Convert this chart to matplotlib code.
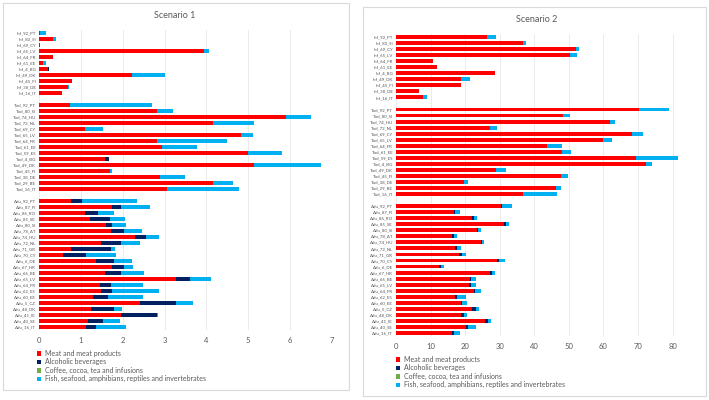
import matplotlib
matplotlib.use('Agg')
from matplotlib import pyplot as plt
from matplotlib.patches import Rectangle
import numpy as np

plt.rcParams['font.family'] = ['Lato', 'DejaVu Sans']

inf_labels = ['Inf_92_PT', 'Inf_80_SI', 'Inf_69_CY', 'Inf_65_LV', 'Inf_64_FR', 'Inf_61_EE',
              'Inf_4_BG', 'Inf_49_DK', 'Inf_45_FI', 'Inf_38_DE', 'Inf_16_IT']
tod_labels = ['Tod_92_PT', 'Tod_80_SI', 'Tod_74_HU', 'Tod_72_NL', 'Tod_69_CY', 'Tod_65_LV',
              'Tod_64_FR', 'Tod_61_EE', 'Tod_59_ES', 'Tod_4_BG', 'Tod_49_DK', 'Tod_45_FI',
              'Tod_38_DE', 'Tod_29_BE', 'Tod_16_IT']
adu_labels = ['Adu_92_PT', 'Adu_87_FI', 'Adu_86_RO', 'Adu_85_SE', 'Adu_80_SI', 'Adu_78_AT',
              'Adu_74_HU', 'Adu_72_NL', 'Adu_71_GR', 'Adu_70_CY', 'Adu_6_DE', 'Adu_67_HR',
              'Adu_66_BE', 'Adu_65_LV', 'Adu_64_FR', 'Adu_62_ES', 'Adu_60_EE', 'Adu_5_CZ',
              'Adu_48_DK', 'Adu_41_IE', 'Adu_40_SE', 'Adu_16_IT']

series_names = ['Meat and meat products', 'Alcoholic beverages',
                'Coffee, cocoa, tea and infusions',
                'Fish, seafood, amphibians, reptiles and invertebrates']
colors = ['#FF0000', '#002060', '#70AD47', '#00B0F0']

# Scenario 1 (Inf | Tod | Adu)
s1_meat = [0.03, 0.33, 0.02, 3.94, 0.33, 0.10, 0.22, 2.23, 0.80, 0.69, 0.55,
           0.73, 2.82, 5.90, 4.16, 1.09, 4.82, 2.82, 2.95, 5.00, 1.57, 5.14, 1.69, 2.89, 4.16, 3.06,
           0.77, 1.75, 1.11, 1.21, 1.61, 1.71, 2.29, 1.49, 0.76, 0.57, 1.37, 1.75, 1.57, 3.27,
           1.45, 1.47, 1.28, 2.41, 1.24, 1.97, 1.16, 1.13]
s1_alc = [0, 0, 0, 0, 0, 0, 0.03, 0, 0, 0, 0,
          0, 0, 0, 0, 0, 0, 0, 0, 0, 0.11, 0, 0, 0, 0, 0,
          0.25, 0.22, 0.30, 0.48, 0.14, 0.32, 0.26, 0.48, 0.95, 0.56, 0.41, 0.28, 0.40, 0.33,
          0.26, 0.28, 0.36, 0.86, 0.56, 0.85, 0.36, 0.22]
s1_coffee = [0, 0, 0, 0, 0, 0, 0, 0, 0, 0, 0,
             0, 0, 0, 0, 0, 0, 0, 0, 0, 0, 0, 0, 0, 0, 0,
             0, 0, 0, 0, 0, 0, 0, 0, 0, 0, 0, 0, 0, 0, 0, 0, 0, 0, 0, 0, 0, 0]
s1_fish = [0.13, 0.08, 0, 0.13, 0, 0.07, 0, 0.77, 0, 0.02, 0,
           1.96, 0.39, 0.60, 0.98, 0.45, 0.30, 1.68, 0.83, 0.81, 0, 1.60, 0.06, 0.60, 0.48, 1.71,
           1.31, 0.69, 0.37, 0.36, 0.33, 0.44, 0.31, 0.45, 0.10, 0.70, 0.43, 0.21, 0.54, 0.50,
           0.77, 1.11, 0.85, 0.41, 0.18, 0.03, 0.41, 0.73]

# Scenario 2
s2_meat = [26.2, 36.6, 52.1, 50.4, 10.8, 12.0, 28.5, 18.9, 18.8, 6.7, 7.7,
           70.2, 48.3, 62.0, 27.3, 68.2, 60.0, 43.8, 48.1, 69.4, 72.3, 28.8, 47.6, 19.6, 46.3, 36.7,
           30.3, 16.8, 22.1, 31.2, 23.5, 16.3, 24.7, 17.2, 18.1, 29.2, 12.3, 27.3, 21.3, 21.1,
           22.5, 17.2, 18.8, 22.1, 18.9, 25.7, 20.2, 16.3]
s2_alc = [0, 0, 0, 0, 0, 0, 0, 0, 0, 0, 0,
          0, 0, 0, 0, 0, 0, 0, 0, 0, 0, 0, 0, 0, 0, 0,
          0.4, 0.4, 0.4, 0.5, 0.3, 0.4, 0.3, 0.3, 0.9, 0.6, 0.6, 0.5, 0.4, 0.5,
          0.3, 0.4, 0.3, 1.0, 0.7, 0.9, 0.5, 0.4]
s2_coffee = [0, 0, 0, 0, 0, 0, 0, 0, 0, 0, 0,
             0, 0, 0, 0, 0, 0, 0, 0, 0, 0, 0, 0, 0, 0, 0,
             0, 0, 0, 0, 0, 0, 0, 0, 0, 0, 0, 0, 0, 0, 0, 0, 0, 0, 0, 0, 0, 0]
s2_fish = [2.6, 1.1, 0.8, 1.9, 0, 0, 0, 2.4, 0, 0, 1.2,
           8.7, 2.0, 1.3, 1.9, 3.3, 2.5, 4.1, 2.6, 12.2, 1.7, 3.1, 2.0, 1.3, 1.4, 9.8,
           2.8, 1.4, 0.8, 1.0, 0.7, 0.9, 0.5, 1.2, 1.2, 1.6, 0.9, 0.8, 1.3, 1.5,
           1.9, 2.6, 1.3, 0.9, 1.0, 1.0, 2.4, 1.8]

W, H = 709, 400
fig = plt.figure(figsize=(W / 100, H / 100), dpi=100)


def fbox(x0, y0, x1, y1):
    # pixel box (top-left origin) -> figure coords
    return [x0 / W, 1 - y1 / H, (x1 - x0) / W, (y1 - y0) / H]


# rows with a blank line between groups
labels = inf_labels + [''] + tod_labels + [''] + adu_labels
pos = [i for i in range(len(labels)) if labels[i] != '']


def panel(box, ax_box, title, title_xy, xmax, xticks, data, leg_xy):
    bx = fbox(*box)
    fig.patches.append(Rectangle((bx[0], bx[1]), bx[2], bx[3], transform=fig.transFigure,
                                 facecolor='none', edgecolor='#D9D9D9', lw=0.8, zorder=-1))
    ax = fig.add_axes(fbox(*ax_box))
    ax.set_facecolor('none')
    left = np.zeros(len(pos))
    handles = []
    for vals, c, name in zip(data, colors, series_names):
        b = ax.barh(pos, vals, left=left, height=0.64, color=c, label=name, zorder=3)
        handles.append(b)
        left = left + np.array(vals)
    ax.set_ylim(len(labels) - 0.5, -0.5)
    ax.set_yticks(range(len(labels)))
    ax.set_yticklabels(labels, fontsize=3.2, color='#595959')
    ax.set_xlim(0, xmax)
    ax.set_xticks(xticks)
    ax.tick_params(axis='x', labelsize=5.5, labelcolor='#595959', length=0, pad=5)
    ax.tick_params(axis='y', length=0, pad=2)
    ax.grid(axis='x', color='#E8E8E8', lw=0.6, zorder=0)
    for s in ['top', 'right', 'bottom', 'left']:
        ax.spines[s].set_visible(False)
    fig.text(title_xy[0] / W, 1 - title_xy[1] / H, title, fontsize=6.5, color='#595959',
             ha='center', va='center')
    fig.legend(handles=handles, loc='upper left',
               bbox_to_anchor=(leg_xy[0] / W, 1 - leg_xy[1] / H), frameon=False,
               fontsize=5.0, labelcolor='#595959', handlelength=0.6, handleheight=0.6,
               handletextpad=0.6, labelspacing=0.2, borderpad=0, borderaxespad=0)
    return ax


panel((3, 3, 349, 390), (39, 30, 332, 330), 'Scenario 1', (175, 15), 7, range(0, 8),
      [s1_meat, s1_alc, s1_coffee, s1_fish], (37, 350))
panel((363, 7, 706, 396), (396, 34, 683, 336), 'Scenario 2', (537, 19), 83, range(0, 90, 10),
      [s2_meat, s2_alc, s2_coffee, s2_fish], (396, 356))

fig.savefig('out.png', dpi=100)
